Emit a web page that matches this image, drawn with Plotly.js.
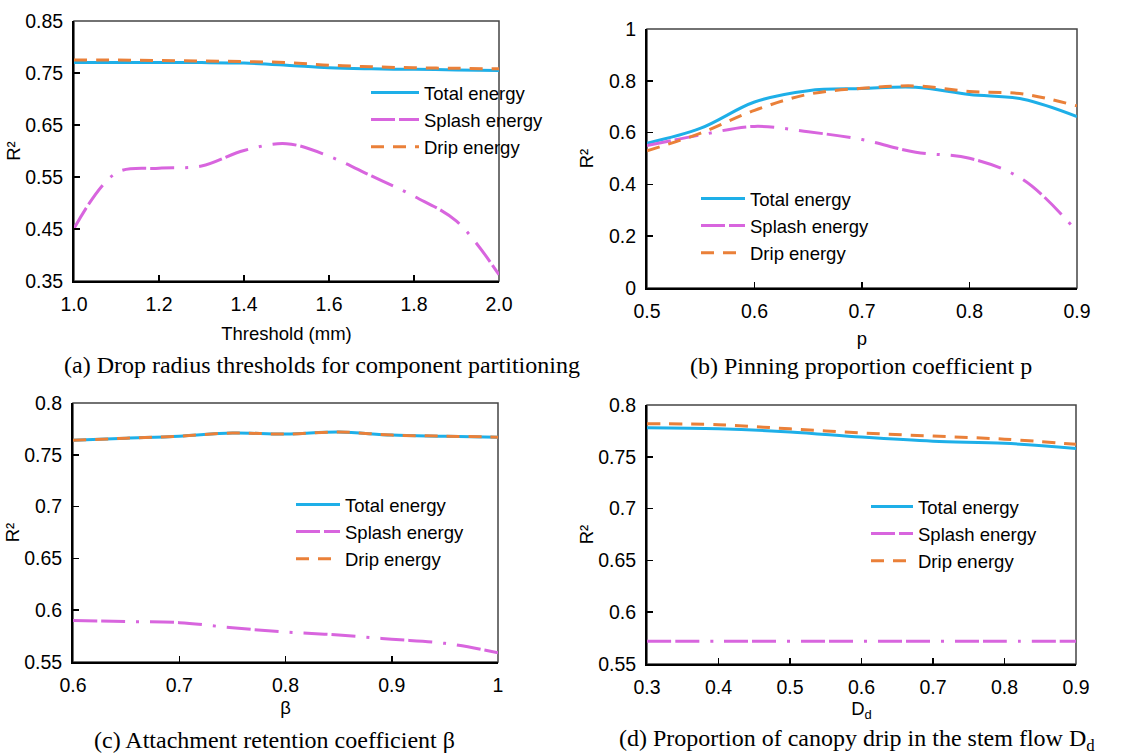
<!DOCTYPE html>
<html>
<head>
<meta charset="utf-8">
<script src="https://cdn.plot.ly/plotly-3.0.1.min.js"></script>
<style>html,body{margin:0;padding:0;background:#fff;}#chart{width:1144px;height:755px;}</style>
</head>
<body>
<div id="chart"></div>
<script>
// ---- Data ----
const seriesNames = ['Total energy', 'Splash energy', 'Drip energy'];

// (a) Drop radius thresholds
const xA = [1.0, 1.1, 1.2, 1.3, 1.4, 1.5, 1.6, 1.7, 1.8, 1.9, 2.0];
const totalA = [0.770, 0.770, 0.770, 0.770, 0.769, 0.765, 0.760, 0.758, 0.757, 0.756, 0.755];
const splashA = [0.451, 0.558, 0.567, 0.571, 0.601, 0.614, 0.590, 0.552, 0.513, 0.465, 0.362];
const dripA = [0.775, 0.775, 0.774, 0.773, 0.772, 0.770, 0.765, 0.762, 0.760, 0.759, 0.758];

// (b) Pinning proportion coefficient p
const xB = [0.50, 0.55, 0.60, 0.65, 0.70, 0.75, 0.80, 0.85, 0.90];
const totalB = [0.559, 0.617, 0.718, 0.762, 0.770, 0.775, 0.747, 0.729, 0.662];
const splashB = [0.550, 0.591, 0.624, 0.603, 0.573, 0.524, 0.501, 0.418, 0.218];
const dripB = [0.530, 0.598, 0.686, 0.748, 0.771, 0.780, 0.759, 0.749, 0.703];

// (c) Attachment retention coefficient beta
const xC = [0.60, 0.65, 0.70, 0.75, 0.80, 0.85, 0.90, 0.95, 1.00];
const totalC = [0.764, 0.766, 0.768, 0.771, 0.770, 0.772, 0.769, 0.768, 0.767];
const splashC = [0.590, 0.589, 0.588, 0.583, 0.579, 0.576, 0.572, 0.568, 0.559];
const dripC = [0.764, 0.766, 0.768, 0.771, 0.770, 0.772, 0.769, 0.768, 0.767];

// (d) Proportion of canopy drip in the stem flow Dd
const xD = [0.3, 0.4, 0.5, 0.6, 0.7, 0.8, 0.9];
const totalD = [0.778, 0.777, 0.774, 0.769, 0.765, 0.763, 0.758];
const splashD = [0.572, 0.572, 0.572, 0.572, 0.572, 0.572, 0.572];
const dripD = [0.782, 0.781, 0.777, 0.773, 0.770, 0.767, 0.762];

// ---- Styles ----
const colors = ['#1EAFE8', '#D865DE', '#EA8039'];
const dashes = ['solid', '24px,4px,24px,11px,3px,11px', '13px,9px'];

const panels = [
  {x: xA, ys: [totalA, splashA, dripA], xa: 'x', ya: 'y', lg: 'legend'},
  {x: xB, ys: [totalB, splashB, dripB], xa: 'x2', ya: 'y2', lg: 'legend2'},
  {x: xC, ys: [totalC, splashC, dripC], xa: 'x3', ya: 'y3', lg: 'legend3'},
  {x: xD, ys: [totalD, splashD, dripD], xa: 'x4', ya: 'y4', lg: 'legend4'}
];

const traces = [];
panels.forEach((p, pi) => {
  p.ys.forEach((ys, si) => {
    traces.push({
      type: 'scatter', mode: 'lines',
      x: p.x, y: ys, name: seriesNames[si],
      xaxis: p.xa, yaxis: p.ya, legend: p.lg,
      legendgroup: 'g' + pi + '_' + si,
      line: {color: colors[si], width: 3, dash: dashes[si], shape: 'spline', smoothing: 1},
      hoverinfo: 'x+y+name'
    });
  });
});

const FAM = 'Liberation Sans, Arial, sans-serif';
const tickFont = {family: FAM, size: 19.5, color: '#000'};
const titleFont = {family: FAM, size: 18.5, color: '#000'};
const legFont = {family: FAM, size: 18.5, color: '#000'};

function xax(domain, range, dtick, fmt, title, anchor, standoff) {
  return {domain: domain, range: range, dtick: dtick, tick0: range[0], tickformat: fmt,
    showgrid: false, zeroline: false, showline: true, linecolor: '#000', linewidth: 2,
    ticks: 'inside', ticklen: 6, tickwidth: 1.5, tickcolor: '#000', tickfont: tickFont,
    ticklabelstandoff: 5,
    title: {text: title, font: titleFont, standoff: standoff}, anchor: anchor, fixedrange: true};
}
function yax(domain, range, dtick, fmt, anchor, standoff) {
  return {domain: domain, range: range, dtick: dtick, tick0: range[0], tickformat: fmt,
    showgrid: false, zeroline: false, showline: true, linecolor: '#000', linewidth: 2,
    ticks: 'inside', ticklen: 6, tickwidth: 1.5, tickcolor: '#000', tickfont: tickFont,
    ticklabelstandoff: 5,
    title: {text: 'R²', font: titleFont, standoff: standoff}, anchor: anchor, fixedrange: true};
}

const W = 1144, H = 755;
const dA = {x: [74 / W, 499 / W], y: [1 - 281 / H, 1 - 21 / H]};
const dB = {x: [647 / W, 1077 / W], y: [1 - 288 / H, 1 - 29 / H]};
const dC = {x: [73 / W, 498 / W], y: [1 - 662 / H, 1 - 403 / H]};
const dD = {x: [647 / W, 1076 / W], y: [1 - 664 / H, 1 - 405 / H]};

function legend(xpx, ypx, gap, iw) {
  return {x: xpx / W, y: 1 - ypx / H, xanchor: 'left', yanchor: 'top',
    bgcolor: 'rgba(0,0,0,0)', borderwidth: 0, font: legFont, tracegroupgap: gap,
    itemwidth: iw, traceorder: 'normal'};
}

function frame(xr, yr) {
  return {type: 'rect', xref: xr + ' domain', yref: yr + ' domain', x0: 0, x1: 1, y0: 0, y1: 1,
    line: {color: '#444', width: 1.5}, layer: 'below'};
}

const capFont = {family: 'Liberation Serif, Times New Roman, serif', size: 24, color: '#000'};
function caption(text, xpx, ypx) {
  return {text: text, x: xpx / W, y: 1 - ypx / H, xref: 'paper', yref: 'paper',
    xanchor: 'center', yanchor: 'middle', showarrow: false, font: capFont};
}

const layout = {
  width: W, height: H,
  margin: {l: 0, r: 0, t: 0, b: 0},
  paper_bgcolor: '#fff', plot_bgcolor: '#fff',
  showlegend: true,
  xaxis: xax(dA.x, [1.0, 2.0], 0.2, '.1f', 'Threshold (mm)', 'y', 13),
  yaxis: yax(dA.y, [0.35, 0.85], 0.1, '.2f', 'x', 0),
  xaxis2: xax(dB.x, [0.5, 0.9], 0.1, '', 'p', 'y2', 11),
  yaxis2: yax(dB.y, [0, 1], 0.2, '', 'x2', 11),
  xaxis3: xax(dC.x, [0.6, 1.0], 0.1, '', 'β', 'y3', 6),
  yaxis3: yax(dC.y, [0.55, 0.8], 0.05, '', 'x3', 0),
  xaxis4: xax(dD.x, [0.3, 0.9], 0.1, '', 'D<sub>d</sub>', 'y4', 2),
  yaxis4: yax(dD.y, [0.55, 0.8], 0.05, '', 'x4', 0),
  legend: legend(366, 74, 5, 48),
  legend2: legend(696, 180, 2, 44),
  legend3: legend(291, 486, 5, 44),
  legend4: legend(866, 488, 5, 42),
  shapes: [frame('x', 'y'), frame('x2', 'y2'), frame('x3', 'y3'), frame('x4', 'y4')],
  annotations: [
    caption('(a) Drop radius thresholds for component partitioning', 322, 365),
    caption('(b) Pinning proportion coefficient p', 861, 366),
    caption('(c) Attachment retention coefficient β', 274, 740),
    caption('(d) Proportion of canopy drip in the stem flow D<sub>d</sub>', 857, 740)
  ]
};

Plotly.newPlot('chart', traces, layout, {displayModeBar: false, staticPlot: true});
</script>
</body>
</html>
